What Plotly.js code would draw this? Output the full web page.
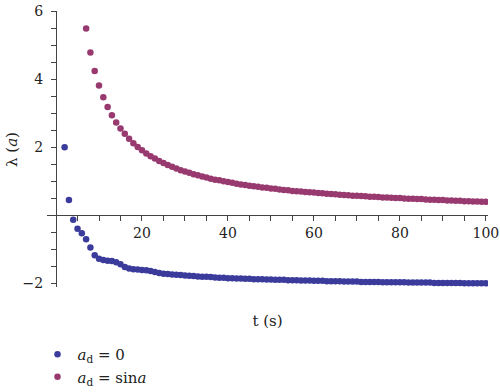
<!DOCTYPE html>
<html>
<head>
<meta charset="utf-8">
<script src="https://cdn.plot.ly/plotly-3.0.1.min.js"></script>
<style>
html,body{margin:0;padding:0;background:#fff;}
#chart{width:500px;height:392px;}
</style>
</head>
<body>
<div id="chart"></div>
<script>
// Time stamps (s)
var tZero = [2,3,4,5,6,7,8,9,10,11,12,13,14,15,16,17,18,19,20,21,22,23,24,25,26,27,28,29,30,
  31,32,33,34,35,36,37,38,39,40,41,42,43,44,45,46,47,48,49,50,51,52,53,54,55,56,57,58,59,60,
  61,62,63,64,65,66,67,68,69,70,71,72,73,74,75,76,77,78,79,80,81,82,83,84,85,86,87,88,89,90,
  91,92,93,94,95,96,97,98,99,100];
var tSin = [7,8,9,10,11,12,13,14,15,16,17,18,19,20,21,22,23,24,25,26,27,28,29,30,
  31,32,33,34,35,36,37,38,39,40,41,42,43,44,45,46,47,48,49,50,51,52,53,54,55,56,57,58,59,60,
  61,62,63,64,65,66,67,68,69,70,71,72,73,74,75,76,77,78,79,80,81,82,83,84,85,86,87,88,89,90,
  91,92,93,94,95,96,97,98,99,100];

// λ(a) for a_d = 0
var lambdaZero = [2.00,0.45,-0.13,-0.39,-0.52,-0.70,-0.94,-1.17,-1.27,-1.31,-1.33,-1.34,-1.37,-1.43,-1.51,
  -1.56,-1.58,-1.59,-1.60,-1.61,-1.63,-1.66,-1.69,-1.71,-1.72,-1.73,-1.74,-1.75,-1.76,
  -1.77,-1.78,-1.79,-1.80,-1.80,-1.81,-1.82,-1.83,-1.83,-1.84,-1.84,-1.85,-1.85,-1.86,-1.86,
  -1.87,-1.87,-1.87,-1.88,-1.88,-1.89,-1.89,-1.89,-1.90,-1.90,-1.90,-1.91,-1.91,-1.91,-1.92,
  -1.92,-1.92,-1.93,-1.93,-1.93,-1.93,-1.94,-1.94,-1.94,-1.94,-1.95,-1.95,-1.95,-1.95,-1.95,
  -1.96,-1.96,-1.96,-1.96,-1.96,-1.96,-1.97,-1.97,-1.97,-1.97,-1.97,-1.97,-1.98,-1.98,-1.98,
  -1.98,-1.98,-1.98,-1.98,-1.99,-1.99,-1.99,-1.99,-1.99,-1.99];

// λ(a) for a_d = sin a
var lambdaSin = [5.49,4.78,4.24,3.81,3.47,3.18,2.94,2.73,2.55,2.40,2.25,2.12,2.01,1.91,1.82,1.74,1.67,1.60,
  1.54,1.48,1.43,1.38,1.33,1.29,1.25,1.21,1.18,1.14,1.11,1.08,1.05,1.03,1.00,0.98,0.96,0.93,
  0.91,0.89,0.87,0.86,0.84,0.82,0.81,0.79,0.78,0.76,0.75,0.74,0.72,0.71,0.70,0.69,0.68,0.67,
  0.66,0.65,0.64,0.63,0.62,0.61,0.60,0.59,0.58,0.58,0.57,0.56,0.55,0.55,0.54,0.53,0.53,0.52,
  0.51,0.51,0.50,0.49,0.49,0.48,0.48,0.47,0.46,0.46,0.45,0.45,0.44,0.44,0.43,0.43,0.42,0.42,
  0.41,0.41,0.40,0.40];

var seriesNames = ['<i>a</i><sub>d</sub> = 0', '<i>a</i><sub>d</sub> = sin<i>a</i>'];
var xTickVals = [20,40,60,80,100];
var yTickVals = [-2,2,4,6];
var yTickText = ['\u22122','2','4','6'];
var xTitle = 't (s)';
var yTitle = '\u03bb (<i>a</i>)';

var FONT = 'DejaVu Serif';
var xRange = [-2.1, 100.5];
var yRange = [-2.1, 6];

var traces = [
  {x: tZero, y: lambdaZero, type: 'scatter', mode: 'markers', name: seriesNames[0],
   marker: {color: '#3b3b9c', size: 6.5}},
  {x: tSin, y: lambdaSin, type: 'scatter', mode: 'markers', name: seriesNames[1],
   marker: {color: '#983a6f', size: 6.5}}
];

var layout = {
  width: 500, height: 392,
  margin: {l: 47, r: 12, t: 11, b: 105, autoexpand: false},
  paper_bgcolor: '#fff', plot_bgcolor: '#fff',
  font: {family: FONT, size: 14, color: '#222'},
  showlegend: true,
  legend: {xref: 'container', yref: 'container', x: 0.075, y: 0.138, xanchor: 'left', yanchor: 'top',
           font: {family: FONT, size: 15, color: '#222'},
           bgcolor: 'rgba(0,0,0,0)', tracegroupgap: 0},
  xaxis: {
    range: xRange, anchor: 'free', position: (0 - yRange[0]) / (yRange[1] - yRange[0]),
    automargin: false,
    showgrid: false, zeroline: false, showline: true, linecolor: '#444', linewidth: 1,
    ticks: 'outside', ticklen: 5, tickcolor: '#444', tickvals: xTickVals,
    minor: {dtick: 5, tick0: 0, ticks: 'outside', ticklen: 5, tickcolor: '#444', showgrid: false},
    tickfont: {family: FONT, size: 14, color: '#222'},
    title: {text: xTitle, font: {family: FONT, size: 15, color: '#222'}, standoff: 75}
  },
  yaxis: {
    range: yRange, anchor: 'free', position: (0 - xRange[0]) / (xRange[1] - xRange[0]),
    automargin: false,
    showgrid: false, zeroline: false, showline: true, linecolor: '#444', linewidth: 1,
    ticks: 'outside', ticklen: 5, tickcolor: '#444', tickvals: yTickVals, ticktext: yTickText,
    ticklabelstandoff: 5,
    minor: {dtick: 0.5, tick0: 0, ticks: 'outside', ticklen: 5, tickcolor: '#444', showgrid: false},
    tickfont: {family: FONT, size: 14, color: '#222'}
  },
  annotations: [
    {text: yTitle, xref: 'paper', yref: 'paper', x: -0.0794, y: 0.5, xanchor: 'center', yanchor: 'middle',
     textangle: -90, showarrow: false, font: {family: FONT, size: 15, color: '#222'}}
  ]
};

Plotly.newPlot('chart', traces, layout, {displayModeBar: false, staticPlot: true});
</script>
</body>
</html>
